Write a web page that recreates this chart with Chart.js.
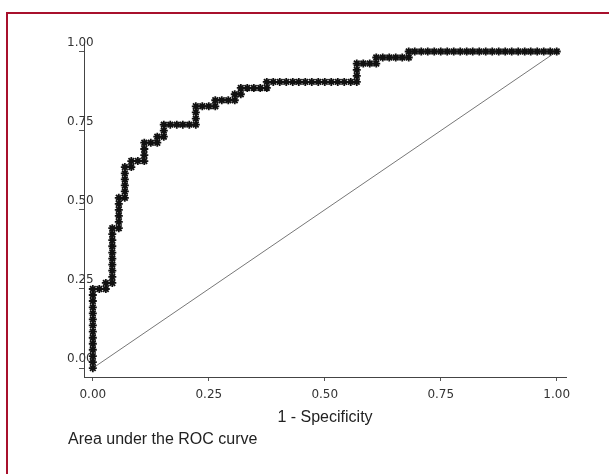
<!DOCTYPE html>
<html lang="en">
<head>
  <meta charset="UTF-8">
  <title>ROC curve</title>
  <script src="https://cdn.jsdelivr.net/npm/chart.js"></script>
  <style>
    body { margin: 0; background: #fff; }
    #wrap { position: relative; width: 609px; height: 474px; }
    #frame {
      position: absolute; left: 6px; top: 12px; right: 0; bottom: 0;
      border-top: 2px solid #a8102c; border-left: 2px solid #a8102c;
      pointer-events: none;
    }
  </style>
</head>
<body>
  <div id="wrap">
    <canvas id="rocChart" width="609" height="474"></canvas>
    <div id="frame"></div>
  </div>

  <script>
    // ROC points (1 - specificity, sensitivity)
    const fpr = [
      0, 0, 0, 0, 0, 0, 0, 0, 0, 0, 0, 0, 0, 0,
      .014, .028, .028, .042,
      .042, .042, .042, .042, .042, .042, .042, .042, .042,
      .056, .056, .056, .056, .056, .056,
      .069, .069, .069, .069, .069, .069,
      .083, .083, .097, .111, .111, .111, .111,
      .125, .139, .139, .153, .153, .153,
      .167, .181, .194, .208, .222,
      .222, .222, .222,
      .236, .250, .264,
      .264, .278, .292, .306,
      .306, .319, .319,
      .333, .347, .361, .375,
      .375,
      .389, .403, .417, .431, .444, .458, .472, .486, .500, .514, .528, .542, .556, .569,
      .569, .569, .569,
      .583, .597, .611,
      .611,
      .625, .639, .653, .667, .681,
      .681,
      .694, .708, .722, .736, .750, .764, .778, .792, .806, .819, .833, .847,
      .861, .875, .889, .903, .917, .931, .944, .958, .972, .986, 1
    ];
    const tpr = [
      0, .019, .038, .058, .077, .096, .115, .135, .154, .173, .192, .212, .231, .250,
      .250, .250, .269, .269,
      .288, .308, .327, .346, .365, .385, .404, .423, .442,
      .442, .462, .481, .500, .519, .538,
      .538, .558, .577, .596, .615, .635,
      .635, .654, .654, .654, .673, .692, .712,
      .712, .712, .731, .731, .750, .769,
      .769, .769, .769, .769, .769,
      .788, .808, .827,
      .827, .827, .827,
      .846, .846, .846, .846,
      .865, .865, .885,
      .885, .885, .885, .885,
      .904,
      .904, .904, .904, .904, .904, .904, .904, .904, .904, .904, .904, .904, .904, .904,
      .923, .942, .962,
      .962, .962, .962,
      .981,
      .981, .981, .981, .981, .981,
      1,
      1, 1, 1, 1, 1, 1, 1, 1, 1, 1, 1, 1,
      1, 1, 1, 1, 1, 1, 1, 1, 1, 1, 1
    ];

    // reference line
    const diagX = [0, 1];
    const diagY = [0, 1];

    const tickValues = [0, 0.25, 0.5, 0.75, 1];
    const tickLabels = ['0.00', '0.25', '0.50', '0.75', '1.00'];

    const xTitle = '1 - Specificity';
    const footNote = 'Area under the ROC curve';

    const rocPoints = fpr.map((x, i) => ({ x, y: tpr[i] }));
    const diagPoints = diagX.map((x, i) => ({ x, y: diagY[i] }));

    function setTicks(scale) {
      scale.ticks = tickValues.map(v => ({ value: v }));
    }
    function labelFor(value) {
      const idx = tickValues.indexOf(value);
      return idx >= 0 ? tickLabels[idx] : '';
    }

    const footNotePlugin = {
      id: 'footNote',
      afterDraw(chart) {
        const ctx = chart.ctx;
        ctx.save();
        ctx.font = '16px "Liberation Sans", Arial, sans-serif';
        ctx.fillStyle = '#222';
        ctx.textBaseline = 'middle';
        ctx.textAlign = 'left';
        ctx.fillText(footNote, 68, 440);
        ctx.restore();
      }
    };

    const tickFont = { family: '"DejaVu Sans", sans-serif', size: 12 };

    new Chart(document.getElementById('rocChart').getContext('2d'), {
      type: 'scatter',
      data: {
        datasets: [
          {
            label: 'ROC',
            data: rocPoints,
            showLine: true,
            borderColor: '#111',
            backgroundColor: '#111',
            borderWidth: 2,
            pointStyle: 'star',
            pointRadius: 4,
            pointBorderWidth: 1.8,
            pointBorderColor: '#111'
          },
          {
            label: 'Reference',
            data: diagPoints,
            showLine: true,
            borderColor: '#777',
            borderWidth: 1,
            pointRadius: 0
          }
        ]
      },
      options: {
        responsive: false,
        animation: false,
        layout: { padding: { left: 0, top: 42, right: 43, bottom: 0 } },
        plugins: {
          legend: { display: false },
          tooltip: { enabled: false }
        },
        scales: {
          x: {
            type: 'linear',
            min: -0.019,
            max: 1.02,
            afterBuildTicks: setTicks,
            afterFit(scale) { scale.height = 97; },
            grid: { drawOnChartArea: false, tickLength: 4, color: '#555' },
            border: { color: '#444', width: 1 },
            ticks: {
              callback: labelFor,
              font: tickFont,
              color: '#333',
              padding: 7,
              maxRotation: 0
            },
            title: {
              display: true,
              text: xTitle,
              font: { family: '"Liberation Sans", Arial, sans-serif', size: 16 },
              color: '#222',
              padding: { top: 0, bottom: 47 }
            }
          },
          y: {
            type: 'linear',
            min: -0.028,
            max: 1.03,
            afterBuildTicks: setTicks,
            afterFit(scale) { scale.width = 84; },
            grid: { drawOnChartArea: false, tickLength: 5, color: '#555' },
            border: { color: '#444', width: 1 },
            ticks: {
              callback: labelFor,
              font: tickFont,
              color: '#333',
              mirror: true,
              crossAlign: 'near',
              padding: -17,
              labelOffset: -9
            }
          }
        }
      },
      plugins: [footNotePlugin]
    });
  </script>
</body>
</html>
